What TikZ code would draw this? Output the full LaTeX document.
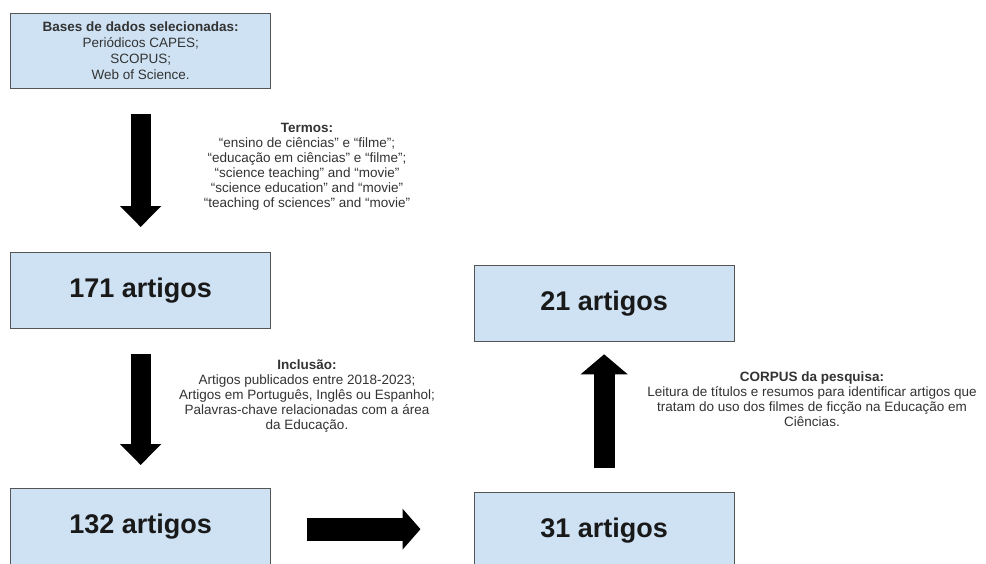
\documentclass[tikz,border=0pt]{standalone}
\usepackage{fontspec}
\setmainfont{Liberation Sans}
\usetikzlibrary{calc}
\usetikzlibrary{arrows.meta}
\definecolor{boxblue}{HTML}{CFE2F3}
\definecolor{boxline}{HTML}{555555}
\tikzstyle{stage}=[draw=boxline, line width=1.3, fill=boxblue, anchor=north west, minimum width=260pt, minimum height=76pt, inner sep=0pt]
\tikzstyle{big count}=[font=\bfseries\fontsize{27}{32}\selectfont, text=black!90]
\tikzstyle{note}=[align=center, font=\fontsize{13.5}{15}\selectfont, text=black!80]
\tikzstyle{fat arrow}=[line width=20, -{Triangle[length=21pt 0, width=40pt 0]}]

\begin{document}
\begin{tikzpicture}[x=1pt, y=-1pt]
	\fill[white] (0,0) rectangle (986,563);
	\useasboundingbox (0,0) rectangle (986,563);

	% Boxes
	\node[stage, minimum height=75pt, note, font=\fontsize{13.5}{16}\selectfont] (bases) at (10,12.7)
		{\textbf{Bases de dados selecionadas:}\\Periódicos CAPES;\\SCOPUS;\\Web of Science.};
	\node[stage, big count] (b171) at (10,252) {171 artigos};
	\node[stage, big count] (b132) at (10,488) {132 artigos};
	\node[stage, big count] (b31) at (473.5,492) {31 artigos};
	\node[stage, big count] (b21) at (473.5,265) {21 artigos};

	% Criteria
	\node[note] (termos) at (307,167)
		{\textbf{Termos:}\\“ensino de ciências” e “filme”;\\“educação em ciências” e “filme”;\\“science teaching” and “movie”\\“science education” and “movie”\\“teaching of sciences” and “movie”};
	\node[note] (inclusao) at (307,396.5)
		{\textbf{Inclusão:}\\Artigos publicados entre 2018-2023;\\Artigos em Português, Inglês ou Espanhol;\\Palavras-chave relacionadas com a área\\da Educação.};
	\node[note] (corpus) at (812,399)
		{\textbf{CORPUS da pesquisa:}\\Leitura de títulos e resumos para identificar artigos que\\tratam do uso dos filmes de ficção na Educação em\\Ciências.};

	% Arrows
	\draw[fat arrow] ($(bases.south)+(0,25)$) -- ($(b171.north)+(0,-25)$);
	\draw[fat arrow] ($(b171.south)+(0,25)$) -- ($(b132.north)+(0,-23)$);
	\draw[fat arrow, line width=23, -{Triangle[length=18pt 0, width=40pt 0]}] ($(b132.east)+(36,2.5)$) -- ($(b31.west)+(-53,-1.5)$);
	\draw[fat arrow, line width=21, -{Triangle[length=20pt 0, width=46pt 0]}] ($(b31.north)+(0,-24)$) -- ($(b21.south)+(0,12)$);
\end{tikzpicture}
\end{document}
